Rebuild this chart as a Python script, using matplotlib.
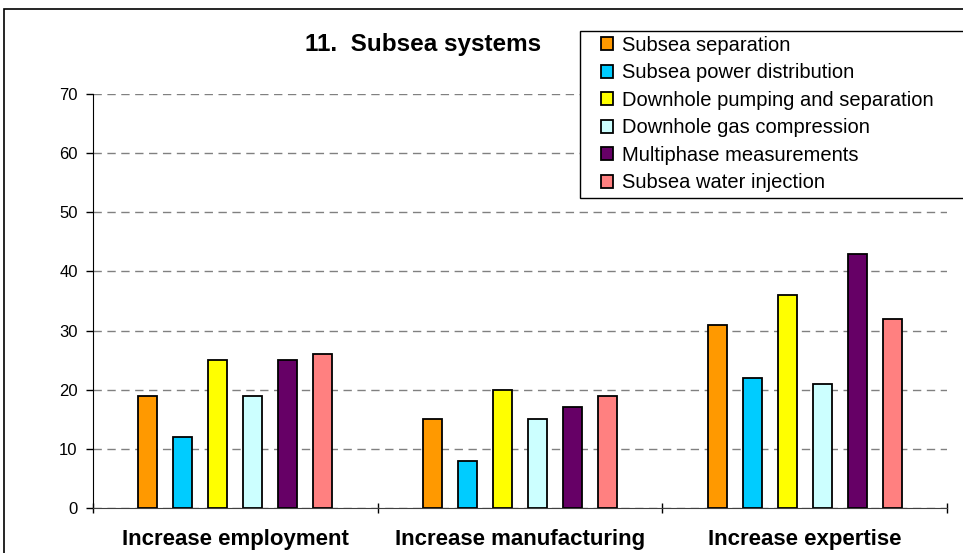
import numpy as np
import matplotlib
matplotlib.use("Agg")
import matplotlib.pyplot as plt
from matplotlib.patches import Rectangle

plt.rcParams['font.family'] = ['Liberation Sans', 'DejaVu Sans']

categories = ["Increase employment", "Increase manufacturing", "Increase expertise"]
series = ["Subsea separation", "Subsea power distribution",
          "Downhole pumping and separation", "Downhole gas compression",
          "Multiphase measurements", "Subsea water injection"]
subsea_separation = [19, 15, 31]
power_distribution = [12, 8, 22]
downhole_pumping = [25, 20, 36]
gas_compression = [19, 15, 21]
multiphase = [25, 17, 43]
water_injection = [26, 19, 32]
colors = ["#FF9900", "#00CCFF", "#FFFF00", "#CCFFFF", "#660066", "#FF8080"]

values = [subsea_separation, power_distribution, downhole_pumping,
          gas_compression, multiphase, water_injection]

W, H = 963, 553
fig = plt.figure(figsize=(W / 100, H / 100), dpi=100)
ax = fig.add_axes([93 / W, 1 - 508 / H, (947 - 93) / W, (508 - 94) / H])

x = np.arange(len(categories))
pitch = 0.1228
width = 0.067
for i, (name, vals, col) in enumerate(zip(series, values, colors)):
    ax.bar(x + (i - 2.5) * pitch, vals, width, color=col, edgecolor='black',
           linewidth=1.3, label=name, zorder=3)

ax.set_xlim(-0.5, 2.5)
ax.set_ylim(0, 70)
ax.set_yticks(range(0, 71, 10))
ax.tick_params(axis='y', labelsize=12, length=5, width=1, direction='out', pad=6)
ax.yaxis.grid(True, color='#808080', linestyle=(0, (6, 4)), linewidth=1)
ax.set_axisbelow(True)

# category boundaries as ticks, labels in between
ax.set_xticks([-0.5, 0.5, 1.5, 2.5])
ax.set_xticklabels([])
ax.set_xticks(x, minor=True)
ax.set_xticklabels(categories, minor=True, fontsize=16, fontweight='bold')
ax.tick_params(axis='x', which='major', length=7, width=1, direction='inout')
ax.tick_params(axis='x', which='minor', length=0, pad=15)

for s in ['top', 'right']:
    ax.spines[s].set_visible(False)
ax.spines['left'].set_color('black')
ax.spines['bottom'].set_color('#404040')

fig.text(423 / W, 1 - 44 / H, "11.  Subsea systems", ha='center', va='center',
         fontsize=17.5, fontweight='bold')

# legend entries without frame, box drawn separately
leg = fig.legend(loc='upper left', bbox_to_anchor=(601 / W, 1 - 36 / H),
                 fontsize=14.5, frameon=False, borderpad=0,
                 handlelength=0.62, handleheight=0.62, handletextpad=0.42,
                 labelspacing=0.42, borderaxespad=0)
leg.set_zorder(6)
fig.patches.append(Rectangle((580 / W, 1 - 198 / H), 400 / W, 167 / H,
                             transform=fig.transFigure, fill=True,
                             facecolor='white', edgecolor='black',
                             linewidth=1, zorder=4))

# outer chart border
fig.patches.append(Rectangle((4 / W, -0.05), 1.1, 1 - 9 / H + 0.05,
                             transform=fig.transFigure, fill=False,
                             edgecolor='black', linewidth=1.2, zorder=4))

fig.savefig("out.png", dpi=100)
